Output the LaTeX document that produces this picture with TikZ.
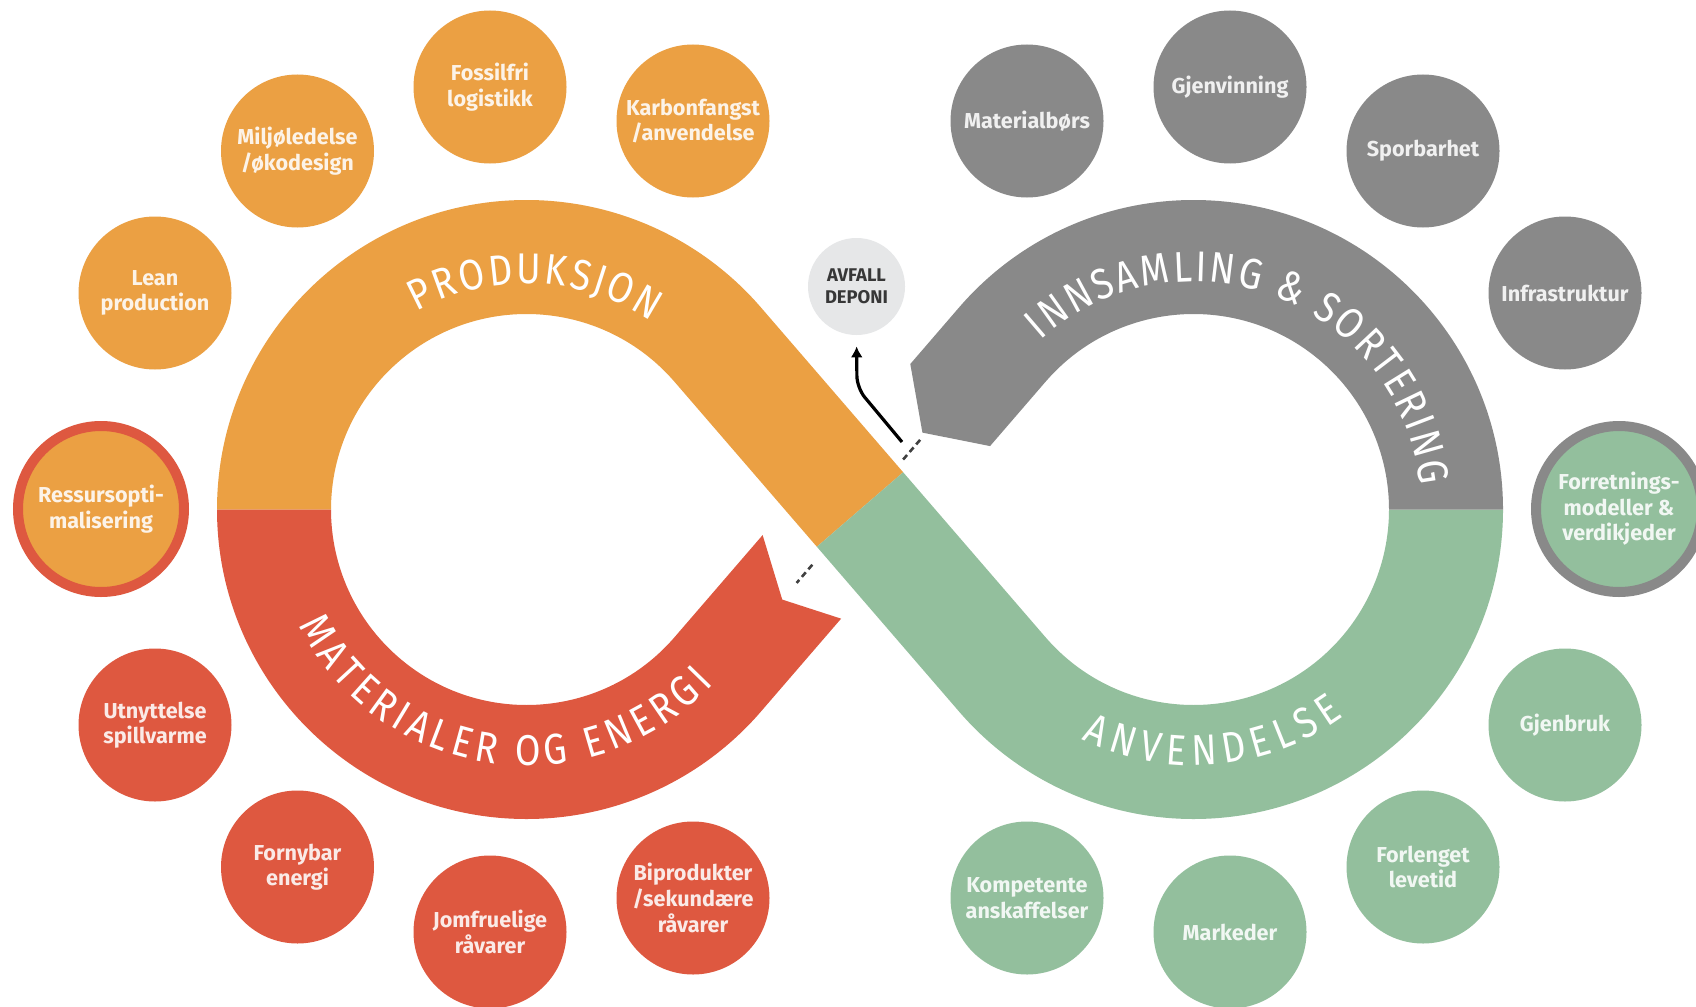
\documentclass[tikz,border=0pt]{standalone}
\usepackage{fontspec}
\setmainfont{Fira Sans}
\newfontfamily\bandfam[FakeStretch=0.86]{Fira Sans}
\usetikzlibrary{calc,decorations.text,arrows.meta}
\definecolor{corange}{RGB}{235,160,67}
\definecolor{cred}{RGB}{222,88,64}
\definecolor{cgray}{RGB}{137,137,137}
\definecolor{cgreen}{RGB}{147,191,157}
\definecolor{clight}{RGB}{230,231,232}
\definecolor{cdark}{RGB}{55,55,55}
\newcommand{\bandfont}{\color{white}\bandfam\fontsize{21.5}{24}\selectfont}
\begin{document}
\begin{tikzpicture}[x=0.5pt,y=0.5pt,
  bubble/.style={circle,minimum size=76.5pt,inner sep=0pt,align=center,
    text=white,text opacity=0.88,font=\bfseries\fontsize{10.8}{12.8}\selectfont},
  bor/.style={bubble,fill=corange},
  bre/.style={bubble,fill=cred},
  bgr/.style={bubble,fill=cgray},
  bgn/.style={bubble,fill=cgreen},
  ringed/.style={minimum size=83pt,line width=5pt},
  avfallbox/.style={circle,minimum size=48.5pt,inner sep=0pt,align=center,fill=clight,
    text=cdark,font=\bfseries\fontsize{9.2}{11}\selectfont},
  dashmark/.style={line width=1.3pt,dash pattern=on 3pt off 2pt,draw=black!75},
  wastearrow/.style={line width=1.6pt,-{Latex[length=5.5pt,width=6pt]},shorten >=5.5pt,rounded corners=6pt}
]
\fill[white] (0,0) rectangle (1696,-1006);
\useasboundingbox (0,0) rectangle (1696,-1006);

\coordinate (CL) at (526.5,-509.5);
\coordinate (CR) at (1193.5,-509.5);
\coordinate (P) at (860,-509.5);

% orange band (produksjon)
\fill[corange] ($(CL)+(180:309.5)$) arc[start angle=180,end angle=40.8,radius=309.5]
  -- ($(P)+(40.8:57)$) -- ($(P)+(220.8:57)$)
  -- ($(CL)+(40.8:195.5)$) arc[start angle=40.8,end angle=180,radius=195.5] -- cycle;
% green band (anvendelse)
\fill[cgreen] ($(P)+(40.8:57)$) -- ($(CR)+(220.8:195.5)$)
  arc[start angle=220.8,end angle=360,radius=195.5]
  -- ($(CR)+(0:309.5)$) arc[start angle=360,end angle=220.8,radius=309.5]
  -- ($(P)+(220.8:57)$) -- cycle;
% gray band (innsamling)
\fill[cgray] ($(CR)+(0:195.5)$) -- ($(CR)+(0:309.5)$)
  arc[start angle=0,end angle=139.2,radius=309.5]
  -- ($(P)+(49.2:143)+(139.2:57)$) -- ($(P)+(49.2:99)+(139.2:3)$)
  -- ($(P)+(49.2:133)+(319.2:57)$)
  -- ($(CR)+(139.2:195.5)$) arc[start angle=139.2,end angle=0,radius=195.5] -- cycle;
% red band (materialer)
\fill[cred] ($(CL)+(180:309.5)$) arc[start angle=180,end angle=319.2,radius=309.5]
  -- ($(P)+(229.2:95)+(319.2:57)$) -- ($(P)+(229.2:119)$)
  -- ($(P)+(229.2:83)+(139.2:57)$)
  -- ($(CL)+(319.2:195.5)$) arc[start angle=319.2,end angle=180,radius=195.5] -- cycle;

% band labels
\path[decorate,decoration={text along path,text align=fit to path,
  text={|\bandfont|PRODUKSJON}}]
  ($(CL)+(119:226)$) arc[start angle=119,end angle=56.4,radius=226];
\path[decorate,decoration={text along path,text align=fit to path,
  text={|\bandfont|INNSAMLING {\&} SORTERING}}]
  ($(CR)+(132:228)$) arc[start angle=132,end angle=6,radius=228];
\path[decorate,decoration={text along path,text align=fit to path,
  text={|\bandfont|MATERIALER OG ENERGI}}]
  ($(CL)+(207:256)$) arc[start angle=207,end angle=317,radius=256];
\path[decorate,decoration={text along path,text align=fit to path,
  text={|\bandfont|ANVENDELSE}}]
  ($(CR)+(244:256)$) arc[start angle=244,end angle=306,radius=256];

% dashed cut marks
\draw[dashmark] ($(P)+(49.2:66)$) -- ($(P)+(49.2:92)$);
\draw[dashmark] ($(P)+(229.2:73)$) -- ($(P)+(229.2:97)$);

% avfall
\node[avfallbox] (avfall) at (856.5,-286.5) {AVFALL\\DEPONI};
\coordinate (wstart) at (902,-442);
\coordinate (wbend) at (857,-388);
\draw[wastearrow] (wstart) -- (wbend) -- (avfall.south);

% bubbles left
\node[bor,draw=cred,ringed] (ressurs) at (101,-509) {Ressursopti-\\malisering};
\node[bor] (lean) at (155,-293) {Lean\\production};
\node[bor] (miljo) at (297.5,-151) {Miljøledelse\\/økodesign};
\node[bor] (fossil) at (490,-87) {Fossilfri\\logistikk};
\node[bor] (karbon) at (693,-121) {Karbonfangst\\/anvendelse};
\node[bre] (utnytt) at (155,-725) {Utnyttelse\\spillvarme};
\node[bre] (fornybar) at (297.5,-867) {Fornybar\\energi};
\node[bre] (jomfru) at (490,-932) {Jomfruelige\\råvarer};
\node[bre] (bipro) at (693,-898) {Biprodukter\\/sekundære\\råvarer};
% bubbles right
\node[bgn,draw=cgray,ringed] (forretn) at (1619,-509) {Forretnings-\\modeller \&\\verdikjeder};
\node[bgr] (infra) at (1565,-293) {Infrastruktur};
\node[bgr] (sporb) at (1423,-151) {Sporbarhet};
\node[bgr] (gjenv) at (1230,-87) {Gjenvinning};
\node[bgr] (materialb) at (1027,-121) {Materialbørs};
\node[bgn] (gjenbruk) at (1565,-725) {Gjenbruk};
\node[bgn] (forlenget) at (1423,-867) {Forlenget\\levetid};
\node[bgn] (markeder) at (1230,-932) {Markeder};
\node[bgn] (kompetente) at (1027,-898) {Kompetente\\anskaffelser};
\end{tikzpicture}
\end{document}
